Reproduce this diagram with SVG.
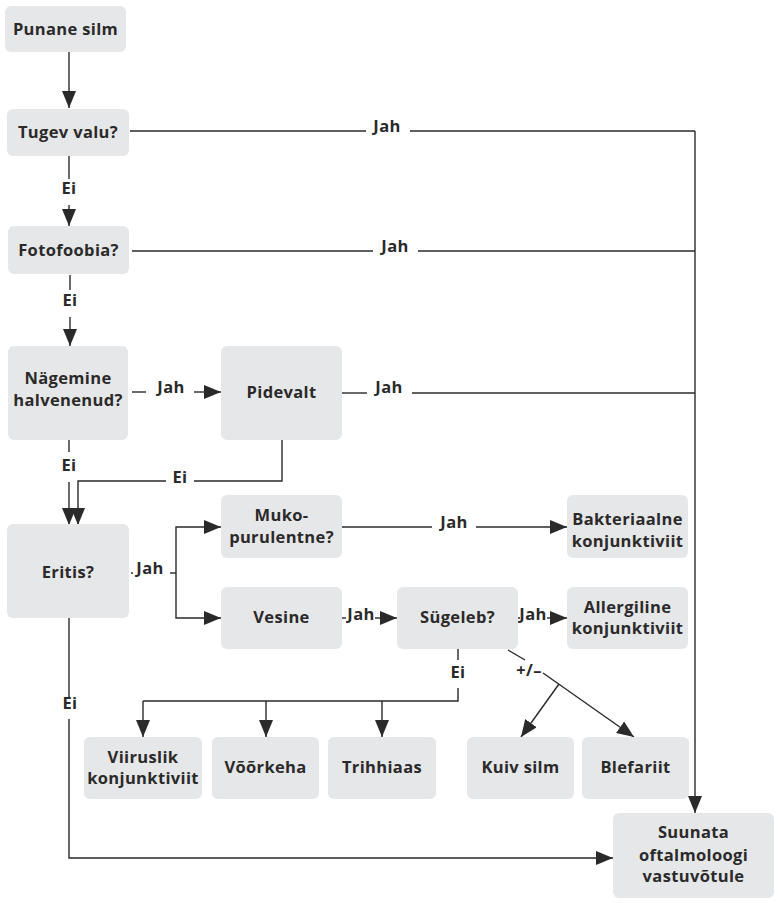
<svg xmlns="http://www.w3.org/2000/svg" width="778" height="903" viewBox="0 0 778 903">
<defs>
<style>
.box{fill:#e6e7e8;}
.t{font-family:"Open Sans","Noto Sans","Liberation Sans",sans-serif;font-weight:700;font-size:16.5px;letter-spacing:0.35px;fill:#2b2a2a;text-anchor:middle;}
.c{stroke:#2b2a2a;stroke-width:1.4;fill:none;}
.a{marker-end:url(#ah);}
</style>
<marker id="ah" markerUnits="userSpaceOnUse" markerWidth="18" markerHeight="14" refX="17" refY="7" orient="auto">
<path d="M0,0 L17,7 L0,14 z" fill="#2b2a2a"/>
</marker>
</defs>
<rect width="778" height="903" fill="#fff"/>
<g id="connectors">
<line class="c a" x1="69" y1="52" x2="69" y2="108"/>
<line class="c" x1="69" y1="156" x2="69" y2="179"/>
<text class="t" x="69" y="194">Ei</text>
<line class="c a" x1="69" y1="205" x2="69" y2="226"/>
<line class="c" x1="130" y1="131" x2="366" y2="131"/>
<text class="t" x="387" y="132">Jah</text>
<line class="c" x1="410" y1="131" x2="695" y2="131"/>
<line class="c" x1="132" y1="251" x2="373" y2="251"/>
<text class="t" x="395" y="252">Jah</text>
<line class="c" x1="418" y1="251" x2="695" y2="251"/>
<line class="c" x1="70" y1="275" x2="70" y2="290"/>
<text class="t" x="70" y="306">Ei</text>
<line class="c a" x1="70" y1="317" x2="70" y2="346"/>
<line class="c" x1="132" y1="392" x2="146" y2="392"/>
<text class="t" x="171" y="393">Jah</text>
<line class="c a" x1="194" y1="392" x2="221" y2="392"/>
<line class="c" x1="342" y1="393" x2="367" y2="393"/>
<text class="t" x="389" y="393">Jah</text>
<line class="c" x1="412" y1="393" x2="695" y2="393"/>
<line class="c a" x1="695" y1="131" x2="695" y2="813"/>
<line class="c" x1="69" y1="440" x2="69" y2="452"/>
<text class="t" x="69" y="471">Ei</text>
<line class="c a" x1="69" y1="482" x2="69" y2="525"/>
<polyline class="c" points="282,440 282,481 194,481"/>
<text class="t" x="180" y="483">Ei</text>
<polyline class="c a" points="166,481 78,481 78,525"/>
<line class="c" x1="131" y1="573" x2="133" y2="573"/>
<text class="t" x="150" y="574">Jah</text>
<line class="c" x1="170" y1="573" x2="176" y2="573"/>
<polyline class="c a" points="176,573 176,527 221,527"/>
<polyline class="c a" points="176,573 176,618 221,618"/>
<line class="c" x1="342" y1="527" x2="432" y2="527"/>
<text class="t" x="454" y="528">Jah</text>
<line class="c a" x1="476" y1="527" x2="567" y2="527"/>
<line class="c" x1="342" y1="618" x2="346" y2="618"/>
<text class="t" x="361" y="620">Jah</text>
<line class="c a" x1="375" y1="618" x2="397" y2="618"/>
<line class="c" x1="518" y1="618" x2="520" y2="618"/>
<text class="t" x="533" y="620">Jah</text>
<line class="c a" x1="547" y1="618" x2="567" y2="618"/>
<line class="c" x1="458" y1="649" x2="458" y2="660"/>
<text class="t" x="458" y="678">Ei</text>
<polyline class="c" points="458,688 458,701 143,701"/>
<line class="c a" x1="143" y1="701" x2="143" y2="737"/>
<line class="c a" x1="266" y1="701" x2="266" y2="737"/>
<line class="c a" x1="382" y1="701" x2="382" y2="737"/>
<line class="c" x1="508" y1="650" x2="525" y2="660"/>
<text class="t" x="529" y="676">+/–</text>
<line class="c a" x1="543" y1="673" x2="634" y2="737"/>
<line class="c a" x1="559" y1="684" x2="521" y2="737"/>
<line class="c" x1="69" y1="618" x2="69" y2="697"/>
<text class="t" x="70" y="709">Ei</text>
<polyline class="c a" points="69,719 69,858 613,858"/>
</g>
<g id="punane"><rect class="box" x="5" y="6" width="121" height="46" rx="6"/><text class="t" x="65.5" y="35">Punane silm</text></g>
<g id="tugev"><rect class="box" x="7" y="109" width="122" height="47" rx="6"/><text class="t" x="68" y="138">Tugev valu?</text></g>
<g id="fotofoobia"><rect class="box" x="8" y="226" width="121" height="48" rx="6"/><text class="t" x="68.5" y="256">Fotofoobia?</text></g>
<g id="nagemine"><rect class="box" x="8" y="346" width="120" height="94" rx="6"/><text class="t" x="68" y="384">Nägemine</text><text class="t" x="68" y="406">halvenenud?</text></g>
<g id="pidevalt"><rect class="box" x="221" y="346" width="121" height="94" rx="6"/><text class="t" x="281.5" y="398">Pidevalt</text></g>
<g id="eritis"><rect class="box" x="7" y="524" width="122" height="94" rx="6"/><text class="t" x="68" y="578">Eritis?</text></g>
<g id="muko"><rect class="box" x="221" y="495" width="121" height="63" rx="6"/><text class="t" x="281.5" y="521">Muko-</text><text class="t" x="281.5" y="543">purulentne?</text></g>
<g id="vesine"><rect class="box" x="221" y="587" width="121" height="62" rx="6"/><text class="t" x="281.5" y="623">Vesine</text></g>
<g id="sugeleb"><rect class="box" x="397" y="587" width="121" height="62" rx="6"/><text class="t" x="457.5" y="623">Sügeleb?</text></g>
<g id="bakteriaalne"><rect class="box" x="567" y="495" width="121" height="63" rx="6"/><text class="t" x="627.5" y="525">Bakteriaalne</text><text class="t" x="627.5" y="547">konjunktiviit</text></g>
<g id="allergiline"><rect class="box" x="567" y="587" width="121" height="62" rx="6"/><text class="t" x="627.5" y="613">Allergiline</text><text class="t" x="627.5" y="634">konjunktiviit</text></g>
<g id="viiruslik"><rect class="box" x="84" y="737" width="118" height="62" rx="6"/><text class="t" x="143" y="763">Viiruslik</text><text class="t" x="143" y="784">konjunktiviit</text></g>
<g id="voorkeha"><rect class="box" x="212" y="737" width="107" height="62" rx="6"/><text class="t" x="265.5" y="773">Võõrkeha</text></g>
<g id="trihhiaas"><rect class="box" x="328" y="737" width="108" height="62" rx="6"/><text class="t" x="382" y="773">Trihhiaas</text></g>
<g id="kuiv"><rect class="box" x="467" y="737" width="107" height="62" rx="6"/><text class="t" x="520.5" y="773">Kuiv silm</text></g>
<g id="blefariit"><rect class="box" x="582" y="737" width="107" height="62" rx="6"/><text class="t" x="635.5" y="773">Blefariit</text></g>
<g id="suunata"><rect class="box" x="613" y="813" width="161" height="85" rx="6"/><text class="t" x="693.5" y="838">Suunata</text><text class="t" x="693.5" y="861">oftalmoloogi</text><text class="t" x="693.5" y="882">vastuvõtule</text></g>
</svg>
